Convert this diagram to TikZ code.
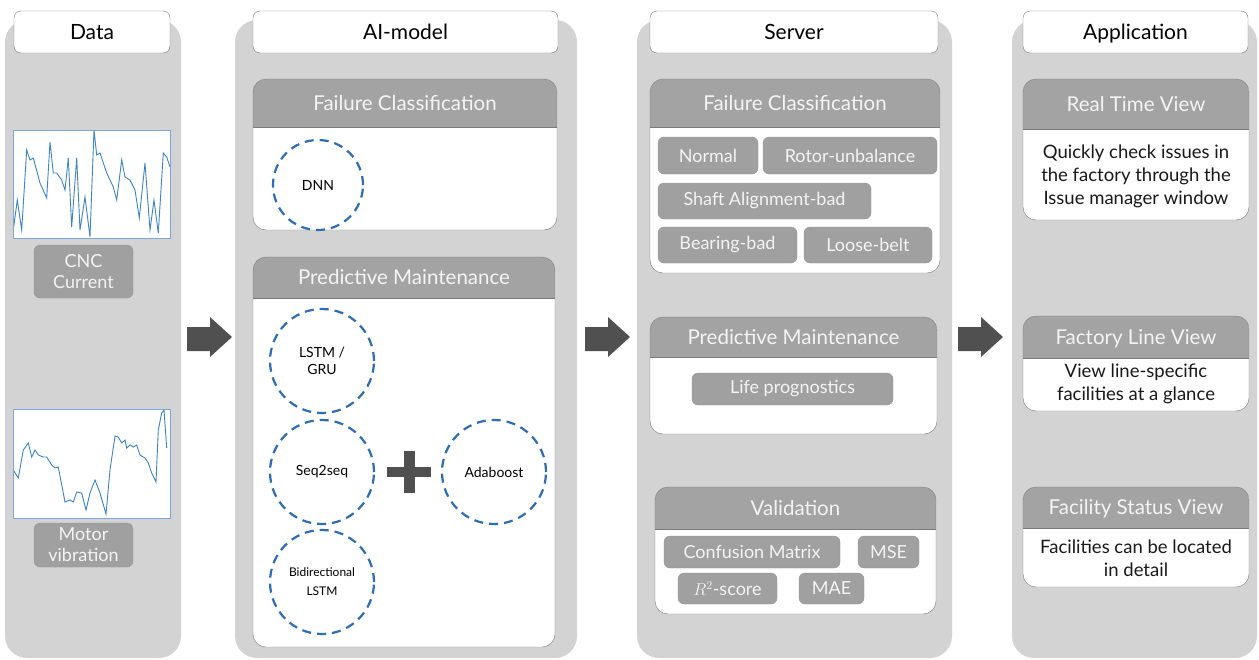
\documentclass[tikz,border=0pt]{standalone}
\usepackage{fontspec}
\setmainfont{Lato}
\definecolor{colbg}{HTML}{D3D3D3}
\definecolor{headgray}{HTML}{A3A3A3}
\definecolor{edgegray}{HTML}{7A7A7A}
\definecolor{chipgray}{HTML}{A0A0A0}
\definecolor{headtext}{HTML}{F4F4F4}
\definecolor{dashblue}{HTML}{2E6DB4}
\definecolor{plotblue}{HTML}{3C84C6}
\definecolor{frameblue}{HTML}{7FA6DB}
\definecolor{arrowgray}{HTML}{505050}

\begin{document}
\begin{tikzpicture}[x=1pt, y=-1pt,
  titlebox/.style={draw=edgegray, fill=white, rounded corners=7, minimum height=42, inner sep=0, text height=15, text depth=0, font=\fontsize{21}{25}\selectfont},
  headlabel/.style={text=headtext, text height=14.5, text depth=0, font=\fontsize{20.5}{24}\selectfont},
  chip/.style={draw=edgegray!80, fill=chipgray, rounded corners=6, text=headtext, inner sep=0, align=center, font=\fontsize{18}{21}\selectfont},
  model/.style={circle, draw=dashblue, line width=2.2, dash pattern=on 9 off 6, minimum size=104, inner sep=0, align=center, font=\fontsize{14}{17}\selectfont},
  note/.style={align=center, text=black!90, font=\fontsize{18.5}{23}\selectfont}
]
\useasboundingbox (0,0) rectangle (1259,659);

% Column backgrounds
\foreach \xa/\xb in {5/181, 235/577, 637/952, 1012/1257}
  \fill[colbg, rounded corners=22] (\xa,20) rectangle (\xb,658);

% Column titles
\node[titlebox, minimum width=156] (data) at (92,32) {Data};
\node[titlebox, minimum width=305] (aimodel) at (405.5,32) {AI-model};
\node[titlebox, minimum width=288] (server) at (794,32) {Server};
\node[titlebox, minimum width=225] (app) at (1135.5,32) {Application};

% Block arrows between columns
\foreach \x in {187, 585, 958}
  \fill[arrowgray] (\x,327) -- (\x+23,327) -- (\x+23,317) -- (\x+45,337)
    -- (\x+23,357) -- (\x+23,351) -- (\x,351) -- cycle;

% Panels with a grey header
\foreach \n/\xa/\xb/\ya/\yh/\yb/\t in {
    aifc/253/557/79/127/230/Failure Classification,
    aipm/253/555/257/298/647/Predictive Maintenance,
    svfc/650/940/79/127/273/Failure Classification,
    svpm/650/937/317/357/434/Predictive Maintenance,
    svval/655/936/487/529/614/Validation,
    aprt/1023/1249/79/129/220/Real Time View,
    apfl/1023/1249/316/358/411/Factory Line View,
    apfs/1023/1249/487/528/587/Facility Status View} {
  \fill[white, rounded corners=13] (\xa,\ya) rectangle (\xb,\yb);
  \begin{scope}
    \clip[rounded corners=13] (\xa,\ya) rectangle (\xb,\yb);
    \fill[headgray] (\xa,\ya) rectangle (\xb,\yh);
  \end{scope}
  \draw[edgegray] (\xa,\yh) -- (\xb,\yh);
  \draw[edgegray, rounded corners=13] (\xa,\ya) rectangle (\xb,\yb);
  \node[headlabel] (\n) at ({(\xa+\xb)/2},{(\ya+\yh)/2}) {\t};
}

% Data: signal plots
\fill[white] (13,130) rectangle (170,238);
\draw[plotblue, line width=0.9] plot coordinates {(13.3,230) (17.3,200) (21.7,230) (26.7,150)
  (30,160) (33.3,158) (40,183) (46.7,198) (50,142) (53.3,173) (56.7,173) (61.7,180) (65,190)
  (68.3,158) (71.7,227) (76.7,158) (80,230) (85,197) (90,237) (94,130) (96.7,155) (100,153)
  (106.7,173) (113.3,187) (116.7,200) (121.7,160) (125,177) (130,180) (135,190) (139.3,218)
  (145,163) (150,230) (154,200) (158.3,233) (163.3,153) (166.7,157) (170,167)};
\draw[frameblue] (13,130) rectangle (170,238);

\fill[white] (13,409) rectangle (170,518);
\draw[plotblue, line width=0.9] plot coordinates {(13.3,470) (18.3,478) (23.3,450) (28.3,443)
  (31.7,457) (35,450) (38.3,455) (43.3,457) (46.7,457) (51.7,465) (55,468) (58.3,467) (65,502)
  (70,500) (73.3,502) (76.7,492) (81.7,493) (86,510) (90,493) (95,480) (100,493) (106,514)
  (110,470) (115,436) (118.3,437) (121.7,443) (125,440) (126.7,448) (130,445) (133.3,447)
  (136.7,445) (140,455) (145,458) (148.3,463) (151.7,473) (156,482) (158.3,430) (161.7,413)
  (164,410) (166.7,448)};
\draw[frameblue] (13,409) rectangle (170,518);

\node[chip, minimum width=99, minimum height=53] (cnc) at (83.5,271.5) {CNC\\Current};
\node[chip, minimum width=99, minimum height=44] (motor) at (83.5,545) {Motor\\vibration};

% AI-model: models
\node[model, minimum size=90] (dnn) at (318,185) {DNN};
\node[model] (lstm) at (322,361) {LSTM /\\GRU};
\node[model] (seq) at (322,472) {Seq2seq};
\node[model, font=\fontsize{12}{19}\selectfont] (bilstm) at (322,582) {Bidirectional\\LSTM};
\node[model] (ada) at (494,472) {Adaboost};
\fill[arrowgray] (387,467) rectangle (431,477);
\fill[arrowgray] (403.5,451) rectangle (414.5,493);

% Server: results
\node[chip, minimum width=100, minimum height=37] (normal) at (708,155.5) {Normal};
\node[chip, minimum width=174, minimum height=37] (rotor) at (850,155.5) {Rotor-unbalance};
\node[chip, minimum width=213, minimum height=36] (shaft) at (764.5,201) {Shaft Alignment-bad};
\node[chip, minimum width=139, minimum height=36] (bearing) at (727.5,245) {Bearing-bad};
\node[chip, minimum width=128, minimum height=36] (belt) at (868,245) {Loose-belt};
\node[chip, minimum width=201, minimum height=32] (life) at (792.5,389) {Life prognostics};
\node[chip, minimum width=176, minimum height=32] (confusion) at (752,552) {Confusion Matrix};
\node[chip, minimum width=61, minimum height=32] (mse) at (888.5,552) {MSE};
\node[chip, minimum width=99, minimum height=31] (rtwo) at (727.5,588.5) {$R^2$-score};
\node[chip, minimum width=65, minimum height=31] (mae) at (831.5,588.5) {MAE};

% Application: descriptions
\node[note] (rtnote) at (1136,176) {Quickly check issues in\\the factory through the\\Issue manager window};
\node[note] (flnote) at (1136,384) {View line-specific\\facilities at a glance};
\node[note] (fsnote) at (1136,558) {Facilities can be located\\in detail};

\end{tikzpicture}
\end{document}
